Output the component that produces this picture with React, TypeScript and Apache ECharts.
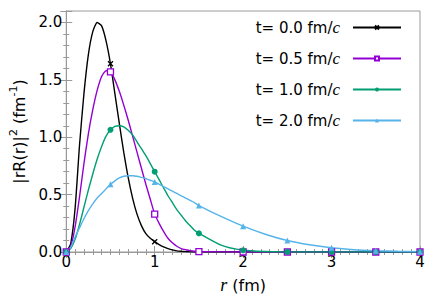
import React, { useEffect, useRef } from "react";
import * as echarts from "echarts";

const R = [0, 0.05, 0.1, 0.15, 0.2, 0.25, 0.3, 0.35, 0.4, 0.45, 0.5, 0.55, 0.6, 0.65, 0.7, 0.75, 0.8, 0.85, 0.9, 0.95, 1.0, 1.05, 1.1, 1.15, 1.2, 1.25, 1.3, 1.35, 1.4, 1.45, 1.5, 1.75, 2.0, 2.25, 2.5, 2.75, 3.0, 3.25, 3.5, 3.75, 4.0];

const T00 = [0, 0.07, 0.38, 0.93, 1.38, 1.72, 1.92, 2.0, 1.97, 1.84, 1.64, 1.38, 1.12, 0.87, 0.65, 0.47, 0.33, 0.23, 0.16, 0.12, 0.09, 0.065, 0.045, 0.03, 0.018, 0.01, 0.006, 0.003, 0.001, 0, 0, 0, 0, 0, 0, 0, 0, 0, 0, 0, 0];
const T05 = [0, 0.05, 0.22, 0.48, 0.77, 1.03, 1.24, 1.41, 1.53, 1.58, 1.57, 1.5, 1.4, 1.28, 1.15, 1.01, 0.87, 0.73, 0.59, 0.46, 0.33, 0.25, 0.18, 0.12, 0.08, 0.05, 0.03, 0.02, 0.012, 0.007, 0.004, 0.001, 0, 0, 0, 0, 0, 0, 0, 0, 0];
const T10 = [0, 0.03, 0.11, 0.24, 0.39, 0.54, 0.68, 0.81, 0.92, 1.01, 1.065, 1.095, 1.1, 1.09, 1.06, 1.02, 0.96, 0.9, 0.84, 0.77, 0.7, 0.63, 0.56, 0.49, 0.43, 0.37, 0.32, 0.27, 0.23, 0.19, 0.163, 0.06, 0.015, 0.004, 0.001, 0, 0, 0, 0, 0, 0];
const T20 = [0, 0.04, 0.13, 0.21, 0.29, 0.36, 0.42, 0.47, 0.51, 0.55, 0.59, 0.62, 0.645, 0.66, 0.665, 0.665, 0.66, 0.65, 0.64, 0.625, 0.61, 0.59, 0.57, 0.55, 0.53, 0.51, 0.49, 0.47, 0.45, 0.43, 0.405, 0.31, 0.225, 0.155, 0.1, 0.063, 0.037, 0.02, 0.011, 0.006, 0.003];

const NAMES = ["t= 0.0 fm/c", "t= 0.5 fm/c", "t= 1.0 fm/c", "t= 2.0 fm/c"];
const X_TICKS = [0, 1, 2, 3, 4];

const FONT = "DejaVu Sans";
const GRAY = "#9a9a9a";

function isMarker(r: number) {
  return Math.abs(r * 2 - Math.round(r * 2)) < 1e-9;
}

function makeSeries(name: string, vals: number[], color: string, symbol: string, size: number, hollow: boolean, cross: boolean) {
  return {
    name,
    type: "line",
    smooth: 0.2,
    symbol,
    symbolSize: size,
    showAllSymbol: true,
    xAxisIndex: 0,
    yAxisIndex: 0,
    data: R.map((r, i) => (isMarker(r) ? [r, vals[i]] : { value: [r, vals[i]], symbol: "none" })),
    lineStyle: { color, width: 1.4 },
    itemStyle: {
      color: hollow ? "#ffffff" : color,
      borderColor: color,
      borderWidth: hollow || cross ? 1.3 : 0,
    },
    emphasis: { disabled: true },
  };
}

export default function App() {
  const ref = useRef<HTMLDivElement>(null);
  useEffect(() => {
    if (!ref.current) return;
    const chart = echarts.init(ref.current, undefined, { renderer: "svg" });
    const axisCommon = {
      axisLine: { show: true, lineStyle: { color: GRAY, width: 1 } },
      axisTick: { show: true, inside: true, length: 6, lineStyle: { color: GRAY } },
      minorTick: { show: true, length: 3, lineStyle: { color: GRAY } },
      splitLine: { show: false },
    };
    chart.setOption({
      animation: false,
      grid: { left: 65, right: 16, top: 11, bottom: 46, show: true, borderColor: GRAY, borderWidth: 1 },
      xAxis: [
        {
          type: "value",
          min: 0,
          max: 4,
          interval: 1,
          ...axisCommon,
          minorTick: { ...axisCommon.minorTick, splitNumber: 10 },
          axisLabel: {
            fontFamily: FONT,
            fontSize: 15,
            color: "#000",
            margin: 2,
            formatter: (v: number) => (X_TICKS.includes(v) ? String(v) : ""),
          },
          name: "{i|r} (fm)",
          nameLocation: "middle",
          nameGap: 24,
          nameTextStyle: {
            fontFamily: FONT,
            fontSize: 16,
            color: "#000",
            rich: { i: { fontFamily: "Liberation Serif", fontStyle: "italic", fontSize: 18, color: "#000" } },
          },
        },
        {
          type: "value",
          position: "top",
          min: 0,
          max: 4,
          interval: 1,
          ...axisCommon,
          minorTick: { ...axisCommon.minorTick, splitNumber: 10 },
          axisLabel: { show: false },
        },
      ],
      yAxis: [
        {
          type: "value",
          min: 0,
          max: 2.1,
          interval: 0.5,
          ...axisCommon,
          minorTick: { ...axisCommon.minorTick, splitNumber: 5 },
          axisLabel: {
            fontFamily: FONT,
            fontSize: 15,
            color: "#000",
            margin: 4,
            showMaxLabel: false,
            formatter: (v: number) => v.toFixed(1),
          },
          name: "|rR(r)|{sup|2} (fm{sup|-1})",
          nameLocation: "middle",
          nameRotate: 90,
          nameGap: 34,
          nameTextStyle: {
            fontFamily: FONT,
            fontSize: 16,
            color: "#000",
            rich: { sup: { fontFamily: FONT, fontSize: 11, color: "#000", padding: [0, 0, 12, 0] } },
          },
        },
        {
          type: "value",
          position: "right",
          min: 0,
          max: 2.1,
          interval: 0.5,
          ...axisCommon,
          minorTick: { ...axisCommon.minorTick, splitNumber: 5 },
          axisLabel: { show: false },
        },
      ],
      legend: {
        orient: "vertical",
        right: 29,
        top: 14,
        align: "right",
        itemWidth: 48,
        itemHeight: 5,
        itemGap: 14,
        selectedMode: false,
        data: NAMES,
        formatter: (name: string) => `{n|${name.slice(0, -1)}}{i|c}`,
        textStyle: {
          fontFamily: FONT,
          fontSize: 15,
          color: "#000",
          padding: [0, 8, 0, 0],
          rich: {
            n: { fontFamily: FONT, fontSize: 15, color: "#000" },
            i: { fontFamily: "Liberation Serif", fontStyle: "italic", fontSize: 17, color: "#000" },
          },
        },
      },
      series: [
        makeSeries(NAMES[0], T00, "#000000", "path://M0,0L10,10M10,0L0,10", 5, false, true),
        makeSeries(NAMES[1], T05, "#9400d3", "rect", 6, true, false),
        makeSeries(NAMES[2], T10, "#009e73", "circle", 6, false, false),
        makeSeries(NAMES[3], T20, "#56b4e9", "triangle", 6, false, false),
      ],
    });
    return () => chart.dispose();
  }, []);
  return <div ref={ref} style={{ position: "absolute", left: 0, top: 0, width: 436, height: 299 }} />;
}
